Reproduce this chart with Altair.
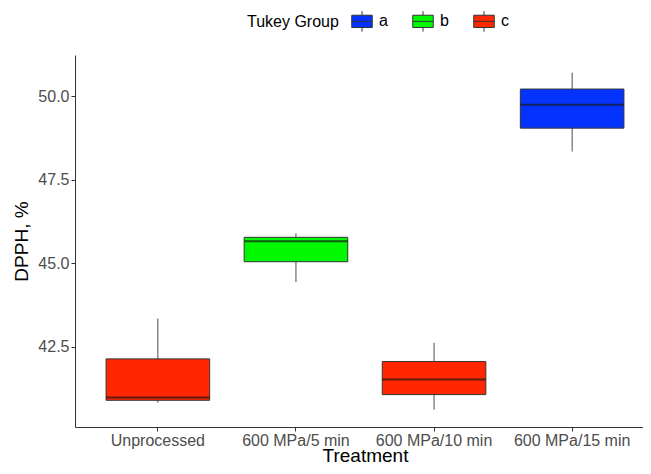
import altair as alt
import pandas as pd

treatments = ["Unprocessed", "600 MPa/5 min", "600 MPa/10 min", "600 MPa/15 min"]
groups = ["c", "b", "c", "a"]
mins = [40.83, 44.44, 40.62, 48.35]
q1s = [40.90, 45.05, 41.07, 49.05]
medians = [40.98, 45.66, 41.52, 49.75]
q3s = [42.14, 45.78, 42.06, 50.22]
maxs = [43.35, 45.90, 42.62, 50.71]

group_domain = ["a", "b", "c"]
group_colors = ["#0433FF", "#00F900", "#FF2600"]
y_ticks = [42.5, 45.0, 47.5, 50.0]

df = pd.DataFrame({
    "Treatment": treatments, "Group": groups, "lo": mins, "q1": q1s,
    "med": medians, "q3": q3s, "hi": maxs,
})

W, H = 568, 372
RANGE_W = 580
pad_inner, pad_outer = 0.25, 0.225
step = RANGE_W / (len(treatments) - pad_inner + 2 * pad_outer)
bw = step * (1 - pad_inner)

FONT = "Liberation Sans"

x = alt.X("Treatment:N", sort=treatments,
          scale=alt.Scale(paddingInner=pad_inner, paddingOuter=pad_outer,
                          range=[0, RANGE_W]),
          axis=alt.Axis(title="Treatment", labelAngle=0, labelFontSize=16,
                        labelColor="#4D4D4D", titleFontSize=19, titleColor="#000000",
                        titleFontWeight="normal", tickSize=4, tickColor="#333333",
                        domainColor="#333333", labelPadding=1, titlePadding=-2,
                        labelFont=FONT, titleFont=FONT))
yscale = alt.Scale(domain=[40.1, 51.24], nice=False, zero=False)
y_axis = alt.Axis(title="DPPH, %", values=y_ticks, format=".1f", labelFontSize=16,
                  labelColor="#4D4D4D", titleFontSize=19, titleColor="#000000",
                  titleFontWeight="normal", tickSize=4, tickColor="#333333",
                  domainColor="#333333", grid=False, labelPadding=2, titlePadding=6,
                  labelFont=FONT, titleFont=FONT)

base = alt.Chart(df)

whisk = base.mark_rule(color="#4D4D4D", strokeWidth=1).encode(
    x=x, y=alt.Y("lo:Q", scale=yscale, axis=y_axis), y2="hi:Q")

box = base.mark_bar(stroke="#333333", strokeWidth=1).encode(
    x=x, y=alt.Y("q1:Q", scale=yscale), y2="q3:Q",
    color=alt.Color("Group:N",
                    scale=alt.Scale(domain=group_domain, range=group_colors),
                    legend=alt.Legend(title="Tukey Group", orient="none",
                                      direction="horizontal", legendX=172, legendY=-45,
                                      titleOrient="left", titleFontSize=16,
                                      titleFontWeight="normal", titleColor="#000000",
                                      labelFontSize=16, labelColor="#000000",
                                      titleFont=FONT, labelFont=FONT,
                                      symbolType="M-1,-0.6H1V0.6H-1Z M-1,0H1 M0,-0.6V-1 M0,0.6V1",
                                      symbolSize=420, symbolStrokeColor="#333333",
                                      symbolStrokeWidth=1, symbolOpacity=1,
                                      labelOffset=6, columnPadding=22, titlePadding=12)))

med = base.mark_tick(thickness=2, size=bw, color="#1A1A1A").encode(
    x=x, y=alt.Y("med:Q", scale=yscale))

chart = alt.layer(whisk, box, med).properties(
    width=W, height=H,
    background="white",
    autosize=alt.AutoSizeParams(type="none"),
    padding={"left": 67, "top": 47, "right": 0, "bottom": 39},
).configure_view(stroke=None)

chart.save("out.html", embed_options={"renderer": "svg", "actions": False})
